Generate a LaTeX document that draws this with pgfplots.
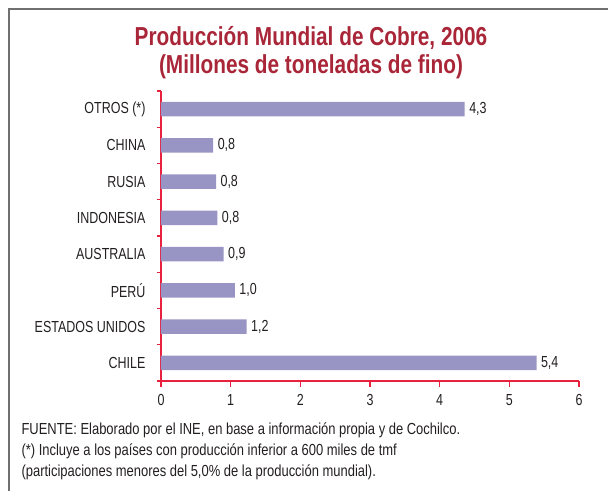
\documentclass[border=0pt]{standalone}
\usepackage{fontspec}
\setmainfont{Liberation Sans}[FakeStretch=0.78]
\newfontfamily\notefont{Liberation Sans}[FakeStretch=0.81]
\newfontfamily\titfont{Liberation Sans}[FakeStretch=0.80]
\usepackage{pgfplots}
\pgfplotsset{compat=1.18}
\definecolor{barcol}{HTML}{9894C4}
\definecolor{axred}{HTML}{E8213F}
\definecolor{titred}{HTML}{A92538}
\definecolor{txt}{HTML}{231F20}
\definecolor{frame}{HTML}{707070}

\begin{document}
\begin{tikzpicture}[x=1pt,y=-1pt]
\path[use as bounding box] (0,0) rectangle (608,491);
\draw[frame, line width=1.6pt] (9,491) -- (9,9) -- (608,9);
% title
\node[anchor=base, text=titred, font=\titfont\bfseries\fontsize{26}{29}\selectfont] at (311,45) {Producción Mundial de Cobre, 2006};
\node[anchor=base, text=titred, font=\titfont\bfseries\fontsize{26}{29}\selectfont] at (311,73) {(Millones de toneladas de fino)};
\begin{axis}[
    at={(161pt,-381pt)}, anchor=south west,
    scale only axis, width=418pt, height=290pt,
    xmin=0, xmax=6, ymin=-0.5, ymax=7.5,
    axis x line=bottom, axis y line=left,
    axis line style={draw=axred, line width=1.2pt, -},
    every tick/.style={draw=axred, line width=1.2pt},
    tick align=outside,
    xtick={0,...,6},
    major tick length=6pt,
    ytick={0,...,7},
    yticklabels={CHILE, ESTADOS UNIDOS, PERÚ, AUSTRALIA, INDONESIA, RUSIA, CHINA, OTROS (*)},
    every major y tick/.style={draw=none},
    minor ytick={-0.5,0.5,...,7.5},
    minor tick length=4pt,
    ticklabel style={font=\fontsize{16}{19}\selectfont, text=txt},
    yticklabel style={xshift=-6pt},
    xticklabel style={yshift=-4pt},
    /pgf/number format/assume math mode=true,
    xbar, bar width=0.4,
    nodes near coords,
    point meta=explicit symbolic,
    nodes near coords style={font=\fontsize{16}{19}\selectfont, text=txt, anchor=west, xshift=1pt},
]
\addplot[fill=barcol, draw=none] coordinates {
  (5.39,0) [5,4]
  (1.23,1) [1,2]
  (1.06,2) [1,0]
  (0.90,3) [0,9]
  (0.81,4) [0,8]
  (0.79,5) [0,8]
  (0.75,6) [0,8]
  (4.36,7) [4,3]
};
\end{axis}
\node[anchor=base west, text=txt, font=\notefont\fontsize{16}{19}\selectfont] at (18,434) {FUENTE: Elaborado por el INE, en base a información propia y de Cochilco.};
\node[anchor=base west, text=txt, font=\notefont\fontsize{16}{19}\selectfont] at (18,455) {(*) Incluye a los países con producción inferior a 600 miles de tmf};
\node[anchor=base west, text=txt, font=\notefont\fontsize{16}{19}\selectfont] at (18,476) {(participaciones menores del 5,0\% de la producción mundial).};
\end{tikzpicture}
\end{document}
